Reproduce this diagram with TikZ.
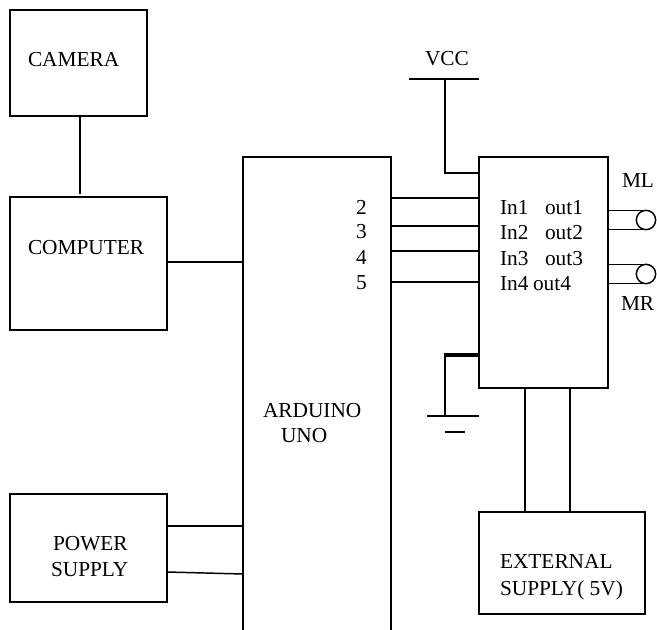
\documentclass[tikz,border=0pt]{standalone}
\usepackage{fontspec}
\setmainfont{Liberation Serif}
\tikzset{
  blk/.style={draw,rectangle,anchor=north west,inner sep=0pt,outer sep=0pt},
  lbl/.style={anchor=base west,inner sep=0pt,outer sep=0pt,font=\fontsize{16}{19}\selectfont},
  wire/.style={line width=1.1pt},
  motor/.style={draw,circle,inner sep=0pt,outer sep=0pt,minimum size=14.5pt,fill=white,line width=1.1pt}
}
\begin{document}
\begin{tikzpicture}[x=0.75pt,y=-0.75pt,line width=1.1pt]
  \useasboundingbox (0,0) rectangle (657,629);
  \clip (0,0) rectangle (657,629);
  % blocks
  \node[blk,minimum width=102.75pt,minimum height=79.5pt] (camera) at (10,10) {};
  \node[blk,minimum width=117.75pt,minimum height=99.75pt] (computer) at (10,197) {};
  \node[blk,minimum width=117.75pt,minimum height=81pt] (power) at (10,494) {};
  \node[blk,minimum width=111pt,minimum height=370pt] (arduino) at (243,157) {};
  \node[blk,minimum width=96.75pt,minimum height=173.25pt] (driver) at (479,157) {};
  \node[blk,minimum width=124.5pt,minimum height=76.5pt] (external) at (479,512) {};
  % labels
  \node[lbl] (tcamera) at (28,66) {CAMERA};
  \node[lbl] (tcomputer) at (28,254) {COMPUTER};
  \node[lbl] (tpower) at (53,550) {POWER};
  \node[lbl] (tsupply) at (51,576) {SUPPLY};
  \node[lbl] (tarduino) at (263,417) {ARDUINO};
  \node[lbl] (tuno) at (281,442) {UNO};
  \node[lbl] (tvcc) at (425,65) {VCC};
  \node[lbl] (tml) at (622,187) {ML};
  \node[lbl] (tmr) at (621,310) {MR};
  \node[lbl] (text) at (500,568) {EXTERNAL};
  \node[lbl] (tsup) at (500,595) {SUPPLY( 5V)};
  \foreach \n/\y/\yy/\xo in {1/214/214/545,2/238/239/545,3/264/265/545,4/289/290/533}{
    \pgfmathtruncatemacro{\pin}{\n+1}
    \node[lbl] (pin\n) at (356,\y) {\pin};
    \node[lbl] (in\n) at (500,\yy) {In\n};
    \node[lbl] (out\n) at (\xo,\yy) {out\n};
  }
  % connections
  \draw[wire,shorten >=2pt] (camera.south -| 80,0) -- (computer.north -| 80,0);
  \draw[wire] (computer.east |- 0,262) -- (arduino.west |- 0,262);
  \draw[wire] (power.east |- 0,526) -- (arduino.west |- 0,526);
  \draw[wire] (power.east |- 0,572) -- (arduino.west |- 0,574);
  \foreach \y in {198,226,251,282}
    \draw[wire] (arduino.east |- 0,\y) -- (driver.west |- 0,\y);
  % vcc
  \coordinate (vcctop) at (445,79);
  \draw[wire] (409,79) -- (479,79);
  \draw[wire] (vcctop) |- (driver.west |- 0,173);
  % ground
  \coordinate (gnd) at (445,416);
  \draw[wire] (gnd) -- (445,355);
  \draw[line width=2.6pt] (444,355) -- (driver.west |- 0,355);
  \draw[wire] (427,416) -- (479,416);
  \draw[wire] (445,432) -- (465,432);
  % supply
  \foreach \x in {525,570}
    \draw[wire] (driver.south -| \x,0) -- (external.north -| \x,0);
  % motors
  \node[motor] (ml) at (646,220) {};
  \node[motor] (mr) at (646,274) {};
  \draw[wire] (driver.east |- ml.north) -- (ml.north);
  \draw[wire] (driver.east |- ml.south) -- (ml.south);
  \draw[wire] (driver.east |- mr.north) -- (mr.north);
  \draw[wire] (driver.east |- mr.south) -- (mr.south);
\end{tikzpicture}
\end{document}
